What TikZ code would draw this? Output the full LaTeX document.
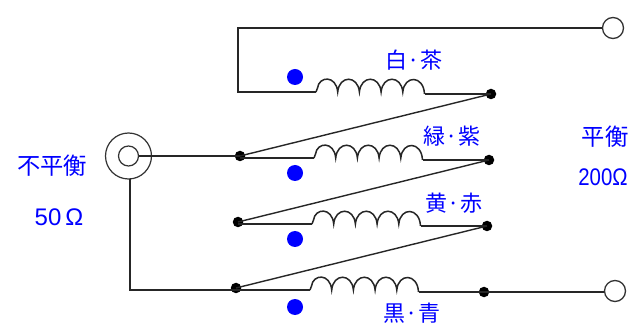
\documentclass[tikz,border=0pt]{standalone}
\usepackage{fontspec}
\newfontfamily\cjk{Noto Sans CJK JP}
\newfontfamily\lat{Liberation Sans}
\definecolor{lblue}{RGB}{0,0,255}
\newcommand{\coilpath}[2]{%
  \draw[wire] (#1,#2) -- ({#1+1.5},{#2-4})
  .. controls ({#1+3},{#2-16}) and ({#1+20.2},{#2-17}) .. ({#1+21.7},{#2})
  .. controls ({#1+23.2},{#2-17}) and ({#1+41.9},{#2-17}) .. ({#1+43.4},{#2})
  .. controls ({#1+44.9},{#2-17}) and ({#1+63.6},{#2-17}) .. ({#1+65.1},{#2})
  .. controls ({#1+66.6},{#2-17}) and ({#1+85.3},{#2-17}) .. ({#1+86.8},{#2})
  .. controls ({#1+88.3},{#2-17}) and ({#1+107.5},{#2-17}) .. ({#1+108.5},{#2+2});}
\tikzset{
  x=1pt,y=-1pt,
  wire/.style={draw=black!85,line width=1.5pt},
  thin wire/.style={draw=black!85,line width=1.4pt},
  jdot/.style={circle,fill=black,inner sep=0pt,minimum size=10.5pt},
  term/.style={circle,draw=black!80,fill=white,line width=1.3pt,inner sep=0pt,minimum size=21pt},
  bdot/.style={circle,fill=lblue,inner sep=0pt,minimum size=16pt},
  lab/.style={text=lblue,font=\cjk\fontsize{22}{22}\selectfont,inner sep=0pt},
  bigl/.style={text=lblue,font=\cjk\fontsize{23.3}{23}\selectfont,inner sep=0pt},
  latlab/.style={text=lblue,font=\lat\fontsize{24}{24}\selectfont,inner sep=0pt},
}
\begin{document}
\begin{tikzpicture}
\fill[white] (0,0) rectangle (631,328);
\useasboundingbox (0,0) rectangle (631,328);
% terminals
\node[term] (T1) at (613,28) {};
\node[term] (T2) at (615,291) {};
% coax connector
\node[circle,draw=black!80,line width=1.2pt,inner sep=0pt,minimum size=46pt] (coaxO) at (128.5,156) {};
\node[circle,draw=black!80,line width=1.2pt,inner sep=0pt,minimum size=20pt] (coaxI) at (128.5,156) {};
% junctions
\node[jdot] (L1) at (240,156) {};
\node[jdot] (L2) at (238,222) {};
\node[jdot] (L3) at (236,288) {};
\node[jdot] (R1) at (491,94) {};
\node[jdot] (R2) at (489,160) {};
\node[jdot] (R3) at (487,226) {};
\node[jdot] (R4) at (484,292) {};
% coil end points
\coordinate (A1) at (316,92);
\coordinate (B1) at (425,94);
\coordinate (A2) at (314,158);
\coordinate (B2) at (423,160);
\coordinate (A3) at (312,224);
\coordinate (B3) at (420.5,226);
\coordinate (A4) at (310,290);
\coordinate (B4) at (418.5,292);
\coordinate (TL) at (238,28);
\coordinate (BL) at (238,92);
\coordinate (CB) at (130,290);
\coordinate (CT) at (130,179);
% wires
\draw[wire] (T1.west) -- (TL) -- (BL) -- (A1);
\draw[wire] (B1) -- (R1.center);
\draw[wire] (L1.center |- A2) -- (A2);
\draw[wire] (B2) -- (R2.center);
\draw[wire] (L2.center |- A3) -- (A3);
\draw[wire] (B3) -- (R3.center);
\draw[wire] (L3.center |- A4) -- (A4);
\draw[wire] (B4) -- (R4.center) -- (T2.west |- R4);
\draw[thin wire] (L1.center) -- (R1.center);
\draw[thin wire] (L2.center) -- (R2.center);
\draw[thin wire] (L3.center) -- (R3.center);
\draw[wire] (coaxI.east) -- (L1.center);
\draw[wire] (CT) -- (CB) -- (L3.center |- CB);
% coils
\coilpath{316}{92}
\coilpath{314}{158}
\coilpath{312}{224}
\coilpath{310}{290}
% phase dots
\node[bdot] (D1) at (295,77) {};
\node[bdot] (D2) at (295,173) {};
\node[bdot] (D3) at (295,239) {};
\node[bdot] (D4) at (295,307) {};
% labels
\node[lab] (w1) at (414,60) {白·茶};
\node[lab] (w2) at (452,136) {緑·紫};
\node[lab] (w3) at (454,203) {黄·赤};
\node[lab] (w4) at (412,313) {黒·青};
\node[bigl] (unb) at (52,166) {不平衡};
\node[bigl] (bal) at (605,137) {平衡};
\node[latlab] (z1) at (59,217) {50\,Ω};
\node[latlab,xscale=0.85] (z2) at (603,177) {200Ω};
\end{tikzpicture}
\end{document}
